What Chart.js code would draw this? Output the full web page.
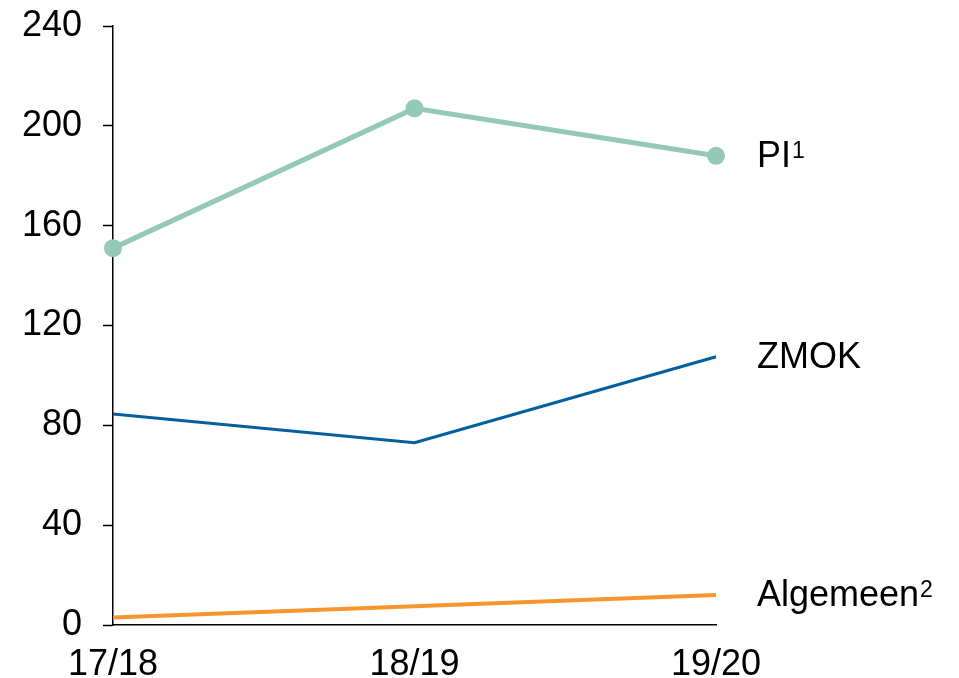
<!DOCTYPE html>
<html>
<head>
<meta charset="utf-8">
<script src="https://cdn.jsdelivr.net/npm/chart.js@4/dist/chart.umd.min.js"></script>
<style>
  html, body { margin: 0; padding: 0; background: #fff; }
  #wrap { width: 959px; height: 678px; }
</style>
</head>
<body>
<div id="wrap"><canvas id="chart" width="959" height="678"></canvas></div>
<script>
// Data
var years = ['17/18', '18/19', '19/20'];
var piValues = [151, 207, 188];
var zmokValues = [84.5, 73, 107.5];
var algemeenValues = [3, 7.5, 12];
var seriesNames = ['PI', 'ZMOK', 'Algemeen'];
var seriesNotes = ['1', '', '2'];
var yTicks = [0, 40, 80, 120, 160, 200, 240];

var FONT = '"Liberation Sans", Arial, sans-serif';

// Labels at the right end of every line
var endLabels = {
  id: 'endLabels',
  afterDatasetsDraw: function (chart) {
    var ctx = chart.ctx;
    ctx.save();
    ctx.fillStyle = '#000';
    ctx.textBaseline = 'middle';
    chart.data.datasets.forEach(function (ds, i) {
      var meta = chart.getDatasetMeta(i);
      var last = meta.data[meta.data.length - 1];
      var x = last.x + 41;
      var y = last.y + 1;
      ctx.font = '36px ' + FONT;
      ctx.textAlign = 'left';
      ctx.fillText(seriesNames[i], x, y);
      if (seriesNotes[i]) {
        var w = ctx.measureText(seriesNames[i]).width;
        ctx.font = '23px ' + FONT;
        ctx.fillText(seriesNotes[i], x + w + 1, y - 5);
      }
    });
    ctx.restore();
  }
};

new Chart(document.getElementById('chart'), {
  type: 'line',
  data: {
    labels: years,
    datasets: [{
      label: seriesNames[0],
      data: piValues,
      borderColor: '#94c9b9',
      backgroundColor: '#94c9b9',
      borderWidth: 5,
      pointRadius: 9,
      pointHoverRadius: 9,
      pointBorderWidth: 0,
      tension: 0,
      clip: false
    }, {
      label: seriesNames[1],
      data: zmokValues,
      borderColor: '#005f9c',
      borderWidth: 3,
      pointRadius: 0,
      tension: 0,
      clip: false
    }, {
      label: seriesNames[2],
      data: algemeenValues,
      borderColor: '#f7962d',
      borderWidth: 4,
      pointRadius: 0,
      tension: 0,
      clip: false
    }]
  },
  options: {
    responsive: false,
    animation: false,
    events: [],
    layout: { padding: { top: 26, right: 243, bottom: 0, left: 0 } },
    plugins: {
      legend: { display: false },
      tooltip: { enabled: false }
    },
    scales: {
      x: {
        offset: false,
        afterFit: function (scale) {
          scale.height = 53;
          scale.paddingLeft = 0;
          scale.paddingRight = 0;
        },
        grid: { display: false, drawTicks: false },
        border: { display: true, color: '#000', width: 1.5 },
        ticks: { color: '#000', padding: 18, maxRotation: 0, font: { family: FONT, size: 36 } }
      },
      y: {
        min: 0,
        max: 240,
        afterBuildTicks: function (scale) {
          scale.ticks = yTicks.map(function (v) { return { value: v }; });
        },
        afterFit: function (scale) {
          scale.width = 113;
          scale.paddingTop = 0;
          scale.paddingBottom = 0;
        },
        grid: {
          drawOnChartArea: false,
          drawTicks: true,
          tickLength: 10,
          tickColor: '#000',
          tickWidth: 1.5
        },
        border: { display: true, color: '#000', width: 1.5 },
        ticks: { color: '#000', padding: 21, font: { family: FONT, size: 36 } }
      }
    }
  },
  plugins: [endLabels]
});
</script>
</body>
</html>
